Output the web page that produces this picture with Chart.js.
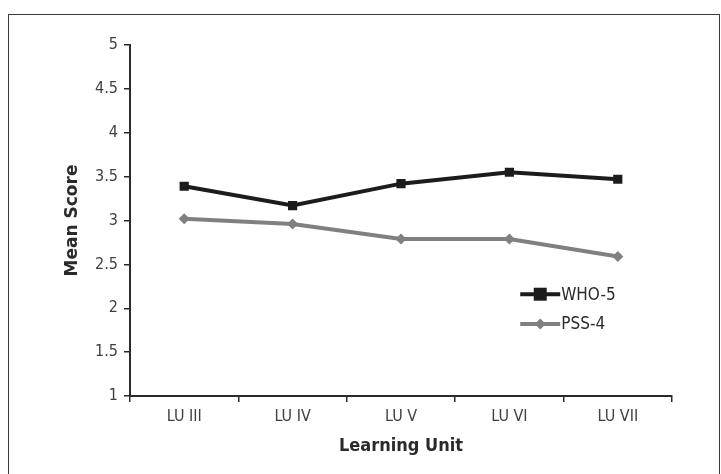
<!DOCTYPE html>
<html>
<head>
<meta charset="utf-8">
<script src="https://cdn.jsdelivr.net/npm/chart.js@4"></script>
<style>
  body { margin: 0; background: #fff; }
  #wrap { position: relative; width: 721px; height: 474px; }
  #frame { position: absolute; left: 8px; top: 14px; width: 712px; height: 470px; border: 1px solid #3a3a3a; box-sizing: border-box; }
</style>
</head>
<body>
<div id="wrap">
  <div id="frame"></div>
  <canvas id="meanChart"></canvas>
</div>
<script>
// data
const units = ["LU III", "LU IV", "LU V", "LU VI", "LU VII"];
const who5 = [3.39, 3.17, 3.42, 3.55, 3.47];
const pss4 = [3.02, 2.96, 2.79, 2.79, 2.59];
const yTicks = [1, 1.5, 2, 2.5, 3, 3.5, 4, 4.5, 5];

const FONT = "'Liberation Sans Narrow', 'DejaVu Sans Condensed', 'Open Sans', sans-serif";

// small legend drawn inside the plot, line + marker like the original
const insideLegend = {
    id: "insideLegend",
    afterDraw(chart) {
        const ctx = chart.ctx;
        const area = chart.chartArea;
        const x0 = area.left + area.width * 0.72;
        const rows = [area.top + area.height * 0.71, area.top + area.height * 0.795];
        chart.data.datasets.forEach((ds, i) => {
            const y = rows[i];
            ctx.save();
            ctx.strokeStyle = ds.borderColor;
            ctx.lineWidth = ds.borderWidth;
            ctx.beginPath();
            ctx.moveTo(x0, y);
            ctx.lineTo(x0 + 40, y);
            ctx.stroke();
            ctx.fillStyle = ds.pointBackgroundColor;
            const cx = x0 + 20;
            const r = ds.pointRadius;
            if (ds.pointStyle === "rect") {
                ctx.fillRect(cx - r, y - r, r * 2, r * 2);
            } else {
                ctx.beginPath();
                ctx.moveTo(cx, y - r);
                ctx.lineTo(cx + r, y);
                ctx.lineTo(cx, y + r);
                ctx.lineTo(cx - r, y);
                ctx.closePath();
                ctx.fill();
            }
            ctx.fillStyle = "#2a2a2a";
            ctx.font = "17px " + FONT;
            ctx.textBaseline = "middle";
            ctx.fillText(ds.label, x0 + 41, y + 1);
            ctx.restore();
        });
    }
};

new Chart(document.getElementById("meanChart"), {
    type: "line",
    data: {
        labels: units,
        datasets: [
            {
                label: "WHO-5",
                data: who5,
                borderColor: "#1c1c1c",
                backgroundColor: "#1c1c1c",
                pointBackgroundColor: "#1c1c1c",
                pointBorderWidth: 0,
                borderWidth: 4,
                pointStyle: "rect",
                pointRadius: 6.5,
                tension: 0
            },
            {
                label: "PSS-4",
                data: pss4,
                borderColor: "#808080",
                backgroundColor: "#808080",
                pointBackgroundColor: "#808080",
                pointBorderWidth: 0,
                borderWidth: 4,
                pointStyle: "rectRot",
                pointRadius: 5.5,
                tension: 0
            }
        ]
    },
    options: {
        responsive: true,
        maintainAspectRatio: false,
        animation: false,
        layout: { padding: { top: 45, right: 49, left: 0, bottom: 0 } },
        plugins: {
            legend: { display: false },
            tooltip: { enabled: false }
        },
        scales: {
            x: {
                offset: true,
                grid: { offset: true, drawOnChartArea: false, drawTicks: true, tickLength: 6, color: "#2a2a2a", lineWidth: 1.5 },
                border: { display: true, color: "#2a2a2a", width: 2 },
                ticks: { color: "#404040", padding: 5, font: { family: FONT, size: 16 } },
                title: { display: true, text: "Learning Unit", color: "#2a2a2a", padding: { bottom: 17 }, font: { family: FONT, size: 18, weight: "bold" } },
                afterFit(scale) { scale.height = 78; }
            },
            y: {
                min: 1,
                max: 5,
                afterBuildTicks(scale) { scale.ticks = yTicks.map(v => ({ value: v })); },
                grid: { drawOnChartArea: false, drawTicks: true, tickLength: 6, color: "#2a2a2a", lineWidth: 1.5 },
                border: { display: true, color: "#2a2a2a", width: 2 },
                ticks: { color: "#404040", padding: 6, font: { family: FONT, size: 16 }, callback: v => String(v) },
                title: { display: true, text: "Mean Score", color: "#2a2a2a", padding: { top: 62 }, font: { family: "'DejaVu Sans', sans-serif", size: 17, weight: "bold" } },
                afterFit(scale) { scale.width = 130; }
            }
        }
    },
    plugins: [insideLegend]
});
</script>
</body>
</html>
